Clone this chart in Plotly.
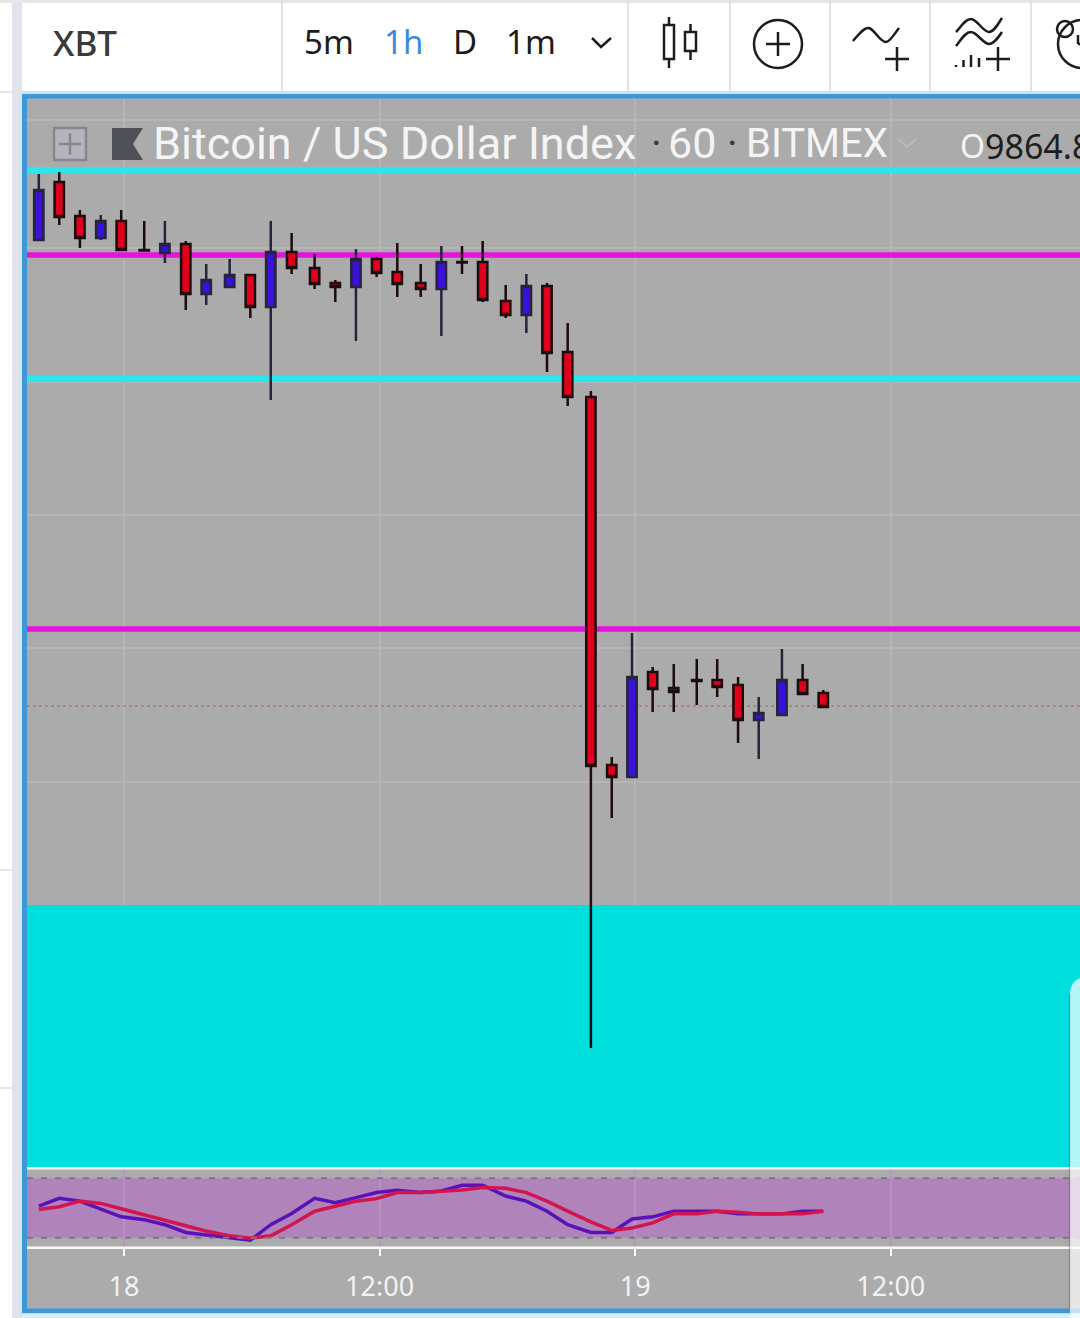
import plotly.graph_objects as go

# ---- data ----
hours = [-4.00,-3.04,-2.07,-1.09,-0.13,0.95,1.92,2.90,3.86,4.96,5.93,6.89,7.87,8.95,9.92,10.89,11.86,12.83,13.93,
         14.90,15.87,16.84,17.92,18.89,19.86,20.83,21.92,22.90,23.85,24.82,25.81,26.89,27.85,28.83,29.80,30.89,31.86,32.83]
opens = [10204.55,10248.05,10222.55,10206.05,10218.8,10197.05,10194.8,10201.55,10164.05,10169.3,10178.3,10154.3,10195.55,
         10183.55,10172.3,10169.3,10190.3,10180.55,10172.3,10167.8,10188.05,10188.05,10158.8,10148.3,10170.05,10120.55,
         10086.8,9810.8,9801.8,9880.55,9868.55,9874.55,9874.55,9870.8,9844.55,9848.3,9874.55,9864.8]
highs = [10254.05,10255.55,10227.05,10223.3,10227.05,10218.8,10218.8,10203.8,10186.55,10190.3,10178.3,10218.8,10209.8,
         10194.05,10174.55,10197.8,10191.8,10202.3,10186.55,10200.05,10200.05,10203.8,10170.8,10179.05,10172.3,10142.3,
         10091.3,9816.8,9909.8,9884.3,9886.55,9890.3,9890.3,9876.8,9861.8,9897.8,9886.55,9867.05]
lows = [10204.55,10215.8,10198.55,10204.55,10197.05,10196.7,10187.3,10152.05,10155.8,10169.3,10146.05,10084.55,10179.05,
        10167.8,10158.05,10128.8,10176.8,10161.8,10161.8,10132.55,10179.05,10158.05,10146.05,10134.8,10105.55,10080.05,
        9598.55,9771.05,9801.8,9850.55,9850.55,9855.8,9861.8,9827.3,9815.3,9848.3,9864.05,9854.3]
closes = [10242.05,10221.8,10206.05,10218.8,10197.05,10196.7,10201.55,10164.05,10174.55,10178.3,10154.3,10195.55,10183.55,
          10171.55,10169.3,10190.3,10179.8,10171.55,10167.8,10188.05,10187.7,10159.55,10148.3,10170.05,10119.8,10086.8,
          9810.05,9801.8,9876.8,9867.8,9865.55,9873.8,9869.3,9844.55,9849.8,9874.55,9864.05,9854.3]
stoch_k = [51.8,59.7,56.9,48.5,41.1,38.3,33.2,25.4,23.1,20.3,17.7,33.2,44.4,59.7,55.3,60.4,65.5,67.8,65.5,67.1,72.9,72.9,
           62,56.9,46.8,33.2,25.4,25.4,39,41.1,46.8,46.8,46.8,44.1,44.1,44.1,46.8,46.8]
stoch_d = [48.5,51.2,56.9,54.6,49.2,43.4,37.6,32.2,26.8,22,19.7,22,33.2,46.8,51.8,56.9,59.4,65.5,65.5,67.1,68.1,70.6,
           69.8,65.5,56.9,46.8,36,27.4,29.9,35,44.1,44.1,46.8,45.7,44.1,44.1,44.1,46.8]
cyan_levels = [10257.05, 10100.3]
magenta_levels = [10193.3, 9912.8]
last_price = 9855.05
zone_top = 9705.8
zone_bottom = 9504
stoch_bands = [20, 80]
grid_prices = [10294.55, 10198.3, 10098.3, 9998.3, 9898.3, 9798.3]
tick_hours = [0, 12, 24, 36]
tick_labels = ["18", "12:00", "19", "12:00"]
x_range = [-4.554, 44.883]

W, H = 1080, 1318
def fx(x): return x / W
def fy(y): return 1 - y / H

fig = go.Figure()
fig.add_trace(go.Candlestick(
    x=hours, open=opens, high=highs, low=lows, close=closes, xaxis="x", yaxis="y",
    whiskerwidth=0, showlegend=False,
    increasing=dict(fillcolor="#3a10dc", line=dict(color="#24243c", width=2.5)),
    decreasing=dict(fillcolor="#e0001e", line=dict(color="#1c0c0c", width=2.5)),
))
fig.add_trace(go.Scatter(x=hours, y=stoch_k, mode="lines", xaxis="x2", yaxis="y2", showlegend=False,
                         line=dict(color="#5a12b8", width=3.5)))
fig.add_trace(go.Scatter(x=hours, y=stoch_d, mode="lines", xaxis="x2", yaxis="y2", showlegend=False,
                         line=dict(color="#d3154f", width=3.5)))

shapes = []
def prect(x0, y0, x1, y1, fill, layer="above", line=None, **kw):
    shapes.append(dict(type="rect", xref="paper", yref="paper", x0=fx(x0), x1=fx(x1), y0=fy(y0), y1=fy(y1),
                       fillcolor=fill, line=line or dict(width=0), layer=layer, **kw))
def pline(x0, y0, x1, y1, color="#1c1c1c", width=2.5, dash="solid", layer="above"):
    shapes.append(dict(type="line", xref="paper", yref="paper", x0=fx(x0), x1=fx(x1), y0=fy(y0), y1=fy(y1),
                       line=dict(color=color, width=width, dash=dash), layer=layer))
def ppath(points, color="#1c1c1c", width=2.5, fill=None, close=False, curve=False):
    if curve:
        d = f"M{fx(points[0][0])},{fy(points[0][1])}"
        for a, b, c in zip(points[1::3], points[2::3], points[3::3]):
            d += f" C{fx(a[0])},{fy(a[1])} {fx(b[0])},{fy(b[1])} {fx(c[0])},{fy(c[1])}"
    else:
        d = "M" + " L".join(f"{fx(x)},{fy(y)}" for x, y in points)
    if close: d += " Z"
    shapes.append(dict(type="path", xref="paper", yref="paper", path=d, layer="above",
                       fillcolor=fill or "rgba(0,0,0,0)", line=dict(color=color, width=width)))
def pcircle(cx, cy, r, color="#1c1c1c", width=2.5):
    shapes.append(dict(type="circle", xref="paper", yref="paper", x0=fx(cx-r), x1=fx(cx+r), y0=fy(cy-r), y1=fy(cy+r),
                       line=dict(color=color, width=width), layer="above"))
def pplus(cx, cy, h, color="#1c1c1c", width=2.5):
    pline(cx-h, cy, cx+h, cy, color, width); pline(cx, cy-h, cx, cy+h, color, width)

# gray chart frame background
prect(27, 97, 1080, 1309, "#ababab", layer="below")

# price zone and levels, above the grid and below the candles
shapes.append(dict(type="rect", xref="x", yref="y", x0=x_range[0], x1=x_range[1], y0=zone_bottom, y1=zone_top,
                   fillcolor="#00e0de", line=dict(width=0), layer="between"))
for v in cyan_levels:
    shapes.append(dict(type="line", xref="x", yref="y", x0=x_range[0], x1=x_range[1], y0=v, y1=v,
                       line=dict(color="#28e8ee", width=6), layer="between"))
for v in magenta_levels:
    shapes.append(dict(type="line", xref="x", yref="y", x0=x_range[0], x1=x_range[1], y0=v, y1=v,
                       line=dict(color="#e615dc", width=5.5), layer="between"))
shapes.append(dict(type="line", xref="x", yref="y", x0=x_range[0], x1=x_range[1], y0=last_price, y1=last_price,
                   line=dict(color="#b06060", width=1, dash="dot"), layer="between"))

# stochastic band
shapes.append(dict(type="rect", xref="paper", yref="y2", x0=fx(27), x1=1, y0=stoch_bands[0], y1=stoch_bands[1],
                   fillcolor="#b084bb", line=dict(width=0), layer="below"))
for v in stoch_bands:
    shapes.append(dict(type="line", xref="paper", yref="y2", x0=fx(27), x1=1, y0=v, y1=v,
                       line=dict(color="#7c7488", width=2, dash="6px,8px"), layer="above"))

# white separators
prect(27, 1167, 1080, 1169.5, "#f8f8f8")
prect(27, 1246.5, 1080, 1249, "#f8f8f8")

# frame and chrome
prect(12, 0, 22, 1318, "#e0e2ec")
prect(19, 93, 22, 1318, "#cfe6f7")
prect(22, 94, 27, 1313, "#3d97d9")
prect(22, 94, 1080, 98.5, "#3d97d9")
prect(22, 1308.5, 1080, 1313.5, "#3d97d9")
prect(22, 91, 1080, 94, "#c5e5f7")
prect(22, 1313.5, 1080, 1318, "#d8eefa")
prect(0, 0, 1080, 3, "#e6e6e6")
for x in [282, 628, 730, 830, 930, 1031]:
    pline(x, 0, x, 91, "#e3e3e3", 2)
for y in [92, 870, 1088]:
    pline(0, y, 12, y, "#e6e6e6", 2)

# translucent panel at the right edge
shapes.append(dict(type="path", xref="paper", yref="paper", layer="above",
                   path=f"M{fx(1080)},{fy(978)} C{fx(1074)},{fy(980)} {fx(1070)},{fy(986)} {fx(1070)},{fy(994)} "
                        f"L{fx(1070)},{fy(1318)} L{fx(1080)},{fy(1318)} Z",
                   fillcolor="rgba(255,255,255,0.7)", line=dict(width=0)))
pline(1069.5, 994, 1069.5, 1309, "rgba(90,90,90,0.35)", 1.5)

# toolbar icons
ppath([(592,38),(601,47),(611,38)], width=2.5)
prect(664, 25, 674, 59, "rgba(0,0,0,0)", line=dict(color="#1c1c1c", width=2.5))
pline(669, 17, 669, 25); pline(669, 59, 669, 68)
prect(685, 32, 696, 51, "rgba(0,0,0,0)", line=dict(color="#1c1c1c", width=2.5))
pline(690.5, 24, 690.5, 32); pline(690.5, 51, 690.5, 60)
pcircle(778, 44, 24); pplus(778, 44, 12)
ppath([(853,41),(859,34),(864,27),(869,28),(875,30),(880,42),(886,42),(890,42),(895,33),(899,28)], curve=True)
pplus(897, 59, 12)
ppath([(956,32),(961,27),(965,19),(971,19),(977,19),(983,32),(989,32),(994,32),(998,24),(1002,18)], curve=True)
ppath([(956,46),(961,40),(965,32),(971,32),(977,32),(983,44),(989,44),(994,44),(998,38),(1002,32)], curve=True)
pline(956, 65, 956, 67); pline(963.5, 60, 963.5, 67); pline(971, 55, 971, 67); pline(979, 58, 979, 67)
pplus(998, 59, 12)
pcircle(1082, 44, 24); pcircle(1065, 29, 8); pline(1078, 44, 1080, 44); pline(1078, 44, 1078, 35)

# legend icons
shapes.append(dict(type="rect", xref="paper", yref="paper", x0=fx(54), x1=fx(86), y0=fy(128), y1=fy(160),
                   fillcolor="#b4b4ba", line=dict(color="#868690", width=2.5), layer="above"))
pplus(70, 144, 11, "#868690", 2.5)
ppath([(112,128),(143,128),(133,144),(143,160),(112,160)], color="#505058", width=0, fill="#505058", close=True)
ppath([(898,139),(907,147),(916,139)], color="#b9b9be", width=2)

ann = []
def text(x, y, s, size, color, font="Noto Sans", anchor="left", weight=400):
    ann.append(dict(xref="paper", yref="paper", x=fx(x), y=fy(y), text=s, showarrow=False, xanchor=anchor,
                    yanchor="middle", borderpad=0, font=dict(family=font, size=size, color=color, weight=weight)))
text(52, 43, "XBT", 35, "#3a3a3a", weight=500)
text(303, 42, "5m", 33, "#1c1c1c")
text(383, 42, "1h", 33, "#3c8adc")
text(452, 42, "D", 33, "#1c1c1c")
text(505, 42, "1m", 33, "#1c1c1c")
text(152, 143, "Bitcoin / US Dollar Index", 45, "#f4f4f4", "Roboto")
text(650, 143, "·", 41, "#3c3c3c", "Roboto")
text(667, 143, "60", 43, "#f4f4f4", "Roboto")
text(726, 143, "·", 41, "#3c3c3c", "Roboto")
text(745, 143, "BITMEX", 40, "#f4f4f4", "Roboto")
text(959, 146, "O", 32, "#f4f4f4")
text(984, 146, "9864.8", 34, "#1e1e1e")

GRID = "#b5b5b5"
fig.update_layout(
    width=W, height=H, autosize=False, margin=dict(l=0, r=0, t=0, b=0),
    paper_bgcolor="#ffffff", plot_bgcolor="#ababab", showlegend=False, boxgap=0.34,
    shapes=shapes, annotations=ann,
    xaxis=dict(domain=[fx(27), 1], range=x_range, anchor="y", rangeslider=dict(visible=False),
               tickvals=tick_hours, ticktext=tick_labels, showticklabels=False, ticks="", showline=False,
               showgrid=True, gridcolor=GRID, gridwidth=2, zeroline=False),
    yaxis=dict(domain=[fy(1167), fy(97)], range=[9509.3, 10311.8], anchor="x", tickvals=grid_prices,
               showticklabels=False, ticks="", showline=False, showgrid=True, gridcolor=GRID, gridwidth=2, zeroline=False),
    xaxis2=dict(domain=[fx(27), 1], range=x_range, anchor="y2", tickvals=tick_hours, ticktext=tick_labels,
                ticks="outside", ticklen=8, tickwidth=2, tickcolor="#f8f8f8", showline=False, ticklabelstandoff=8,
                tickfont=dict(family="Noto Sans", size=27, color="#f2f2f2"),
                showgrid=True, gridcolor="#b892c2", gridwidth=1.5, zeroline=False),
    yaxis2=dict(domain=[fy(1247), fy(1169)], range=[10.8, 89.2], anchor="x2", showticklabels=False, ticks="",
                showline=False, showgrid=False, zeroline=False),
)
fig.write_html("out.html", config={"displayModeBar": False},
               post_script="document.body.style.margin='0';document.body.style.overflow='hidden';")
